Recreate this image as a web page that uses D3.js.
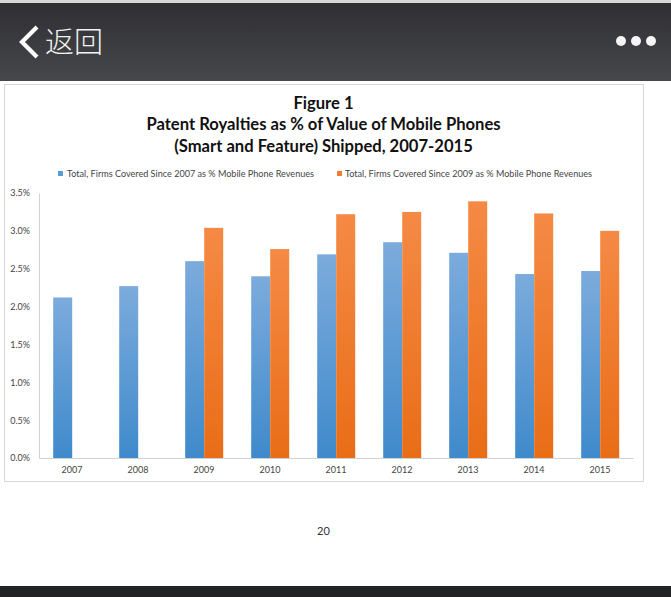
<!DOCTYPE html>
<html><head><meta charset="utf-8">
<script src="https://cdnjs.cloudflare.com/ajax/libs/d3/7.8.5/d3.min.js"></script>
<style>html,body{margin:0;padding:0;background:#fff;overflow:hidden}svg{display:block}</style>
</head><body>
<svg id="c" width="671" height="597"></svg>
<script>
const years = ["2007","2008","2009","2010","2011","2012","2013","2014","2015"];
const firms2007 = [2.12,2.27,2.60,2.40,2.69,2.85,2.71,2.43,2.47];
const firms2009 = [null,null,3.04,2.76,3.22,3.25,3.39,3.23,3.00];
const yTicks = [0,0.5,1,1.5,2,2.5,3,3.5];
const seriesNames = ["Total, Firms Covered Since 2007 as % Mobile Phone Revenues","Total, Firms Covered Since 2009 as % Mobile Phone Revenues"];
const titleLines = ["Figure 1","Patent Royalties as % of Value of Mobile Phones","(Smart and Feature) Shipped, 2007-2015"];

const svg = d3.select("#c");
const font = "Lato, Open Sans, sans-serif";
const defs = svg.append("defs");
function grad(id,stops,x1,y1,x2,y2){
  const g = defs.append("linearGradient").attr("id",id).attr("x1",x1).attr("y1",y1).attr("x2",x2).attr("y2",y2);
  stops.forEach(s=>g.append("stop").attr("offset",s[0]).attr("stop-color",s[1]));
}
grad("gb",[[0,"#7cabdc"],[1,"#3f8acb"]],0,0,0,1);
grad("go",[[0,"#f58a45"],[1,"#e96d17"]],0,0,0,1);
grad("hd",[[0,"#2f2f33"],[1,"#47484b"]],0,0,0,1);

// app chrome
svg.append("rect").attr("x",0).attr("y",0).attr("width",671).attr("height",3).attr("fill","#d8d8d8");
svg.append("rect").attr("x",0).attr("y",3).attr("width",671).attr("height",78).attr("fill","url(#hd)");
svg.append("path").attr("d",d3.line()([[37,27],[22,42],[37,57]])).attr("fill","none").attr("stroke","#fff").attr("stroke-width",4.2);
svg.append("text").attr("x",45).attr("y",53).attr("fill","#f2f2f2").attr("font-family","Noto Sans CJK SC").attr("font-size",29).attr("font-weight",300).text("返回");
[621,636,651].forEach(x=>svg.append("circle").attr("cx",x).attr("cy",41).attr("r",5).attr("fill","#f5f5f5"));
svg.append("rect").attr("x",0).attr("y",586).attr("width",671).attr("height",11).attr("fill","#222325");

// chart frame
svg.append("rect").attr("x",4.5).attr("y",84.5).attr("width",639).attr("height",397).attr("fill","#fff").attr("stroke","#d6d9d9");

svg.selectAll("text.t").data(titleLines).join("text").attr("class","t")
  .attr("x",323.5).attr("y",(d,i)=>108.5+i*21.7).attr("text-anchor","middle")
  .attr("font-family",font).attr("font-size",16.6).attr("font-weight",700).attr("fill","#111").text(d=>d);

// legend
const lx=[58,337], tx=[67,345];
seriesNames.forEach((n,i)=>{
  svg.append("rect").attr("x",lx[i]).attr("y",171).attr("width",5).attr("height",5).attr("fill",i?"#ed7d31":"#5b9bd5");
  svg.append("text").attr("x",tx[i]).attr("y",176.5).attr("font-family",font).attr("font-size",8.8).attr("fill","#444")
    .attr("textLength",247).attr("lengthAdjust","spacingAndGlyphs").text(n);
});

// scales
const x = d3.scaleBand().domain(years).range([39,633]).paddingInner(0).paddingOuter(0);
const y = d3.scaleLinear().domain([0,3.5]).range([458,193]);
const bw = 19;

svg.append("g").selectAll("rect").data(years).join("rect")
  .attr("x",d=>x(d)+x.bandwidth()/2-bw+0.2).attr("width",bw)
  .attr("y",(d,i)=>y(firms2007[i])).attr("height",(d,i)=>y(0)-y(firms2007[i])).attr("fill","url(#gb)");
svg.append("g").selectAll("rect").data(years.filter((d,i)=>firms2009[i]!==null)).join("rect")
  .attr("x",d=>x(d)+x.bandwidth()/2+0.2).attr("width",bw)
  .attr("y",d=>y(firms2009[years.indexOf(d)])).attr("height",d=>y(0)-y(firms2009[years.indexOf(d)])).attr("fill","url(#go)");

// axes
const gx = svg.append("g").attr("transform","translate(0,458)").call(d3.axisBottom(x).tickSize(0).tickPadding(9));
const gy = svg.append("g").attr("transform","translate(39,0)").call(d3.axisLeft(y).tickValues(yTicks).tickSize(0).tickPadding(9).tickFormat(d=>d.toFixed(1)+"%"));
[gx,gy].forEach(g=>{
  g.select(".domain").attr("stroke","#d0d3d6").attr("stroke-width",1);
  g.selectAll("text").attr("font-family",font).attr("font-size",9).attr("fill","#444");
});

svg.append("text").attr("x",323.5).attr("y",535).attr("text-anchor","middle").attr("font-family",font).attr("font-size",11).attr("fill","#333").text("20");
</script>
</body></html>
